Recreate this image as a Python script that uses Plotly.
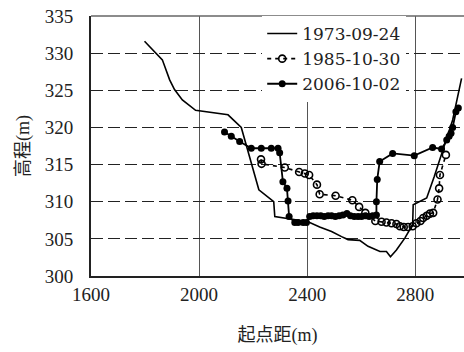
import plotly.graph_objects as go

x1973 = [1798, 1864, 1891, 1909, 1938, 1987, 2107, 2156, 2221, 2276, 2280, 2335, 2403, 2446,
         2490, 2527, 2551, 2594, 2625, 2669, 2693, 2708, 2730, 2761, 2790, 2792, 2842, 2870,
         2897, 2938, 2971]
y1973 = [331.6, 329.1, 326.4, 325.1, 323.7, 322.3, 321.7, 320.0, 311.6, 310.0, 308.0, 307.7,
         307.3, 306.6, 306.0, 305.3, 304.9, 304.8, 304.0, 303.3, 303.3, 302.6, 303.5, 305.1,
         306.9, 309.6, 310.5, 313.4, 316.3, 321.0, 326.6]

x1985 = [2229, 2231, 2317, 2370, 2391, 2407, 2436, 2446, 2505, 2567, 2592, 2615, 2652, 2675,
         2693, 2712, 2730, 2743, 2757, 2773, 2790, 2804, 2819, 2829, 2842, 2854, 2866, 2882,
         2888, 2891, 2913]
y1985 = [315.7, 315.1, 314.6, 314.0, 313.8, 313.6, 312.3, 311.0, 310.8, 310.2, 309.3, 308.5,
         307.4, 307.3, 307.2, 307.1, 307.0, 306.7, 306.6, 306.6, 306.7, 307.1, 307.4, 307.8,
         308.1, 308.4, 308.5, 310.3, 311.8, 313.6, 316.3]

x2006 = [2094, 2119, 2150, 2193, 2230, 2267, 2292, 2298, 2310, 2325, 2329, 2333, 2354, 2366,
         2385, 2397, 2409, 2422, 2436, 2450, 2463, 2477, 2490, 2504, 2518, 2532, 2547, 2560,
         2574, 2588, 2601, 2615, 2629, 2642, 2656, 2656, 2659, 2668, 2716, 2796, 2864, 2897,
         2916, 2925, 2932, 2938, 2950, 2959]
y2006 = [319.4, 318.8, 318.1, 317.2, 317.2, 317.2, 317.2, 316.6, 312.7, 311.8, 310.1, 308.0,
         307.2, 307.2, 307.2, 307.2, 308.0, 308.1, 308.1, 308.1, 308.0, 308.1, 308.1, 308.0,
         308.1, 308.2, 308.4, 308.1, 308.0, 308.0, 308.0, 308.1, 308.0, 308.1, 308.2, 310.0,
         313.0, 315.4, 316.5, 316.2, 317.3, 317.1, 318.3, 318.8, 319.2, 320.0, 322.1, 322.6]

names = ["1973-09-24", "1985-10-30", "2006-10-02"]
x_ticks = [1600, 2000, 2400, 2800]
y_ticks = [300, 305, 310, 315, 320, 325, 330, 335]

FONT = "Liberation Serif, Noto Sans CJK SC, serif"

fig = go.Figure()
fig.add_trace(go.Scatter(x=x1973, y=y1973, mode="lines", name=names[0],
                         line=dict(color="black", width=1.6)))
fig.add_trace(go.Scatter(x=x1985, y=y1985, mode="lines+markers", name=names[1],
                         line=dict(color="black", width=1.6, dash="4px,4px"),
                         marker=dict(symbol="circle-open", size=7, color="black",
                                     line=dict(width=1.6))))
fig.add_trace(go.Scatter(x=x2006, y=y2006, mode="lines+markers", name=names[2],
                         line=dict(color="black", width=1.8),
                         marker=dict(symbol="circle", size=7, color="black")))

fig.update_layout(
    width=464, height=352,
    margin=dict(l=91, r=0, t=16, b=76),
    paper_bgcolor="white", plot_bgcolor="white",
    font=dict(family=FONT, size=18, color="#222"),
    showlegend=True,
    legend=dict(x=0.459, y=1.0, xanchor="left", yanchor="top",
                bgcolor="white", borderwidth=0,
                font=dict(family="DejaVu Serif, serif", size=17),
                tracegroupgap=0),
    shapes=[dict(type="line", xref="paper", yref="paper", x0=0, x1=1, y0=1, y1=1,
                 line=dict(color="#666", width=1.5))],
)
fig.update_xaxes(range=[1600, 2980], tickvals=x_ticks, ticks="",
                 showline=True, linecolor="#222", linewidth=2, mirror=False,
                 showgrid=True, gridcolor="#555", gridwidth=1, zeroline=False,
                 title=dict(text="起点距(m)", font=dict(size=18), standoff=25),
                 tickfont=dict(size=19))
fig.update_yaxes(range=[300, 335], tickvals=y_ticks, ticks="",
                 showline=True, linecolor="#222", linewidth=2, mirror=False,
                 showgrid=True, gridcolor="#222", gridwidth=1.3, griddash="12px,5px",
                 zeroline=False, ticklabelstandoff=12,
                 title=dict(text="高程(m)", font=dict(size=18), standoff=10),
                 tickfont=dict(size=19))

fig.write_html("out.html")
